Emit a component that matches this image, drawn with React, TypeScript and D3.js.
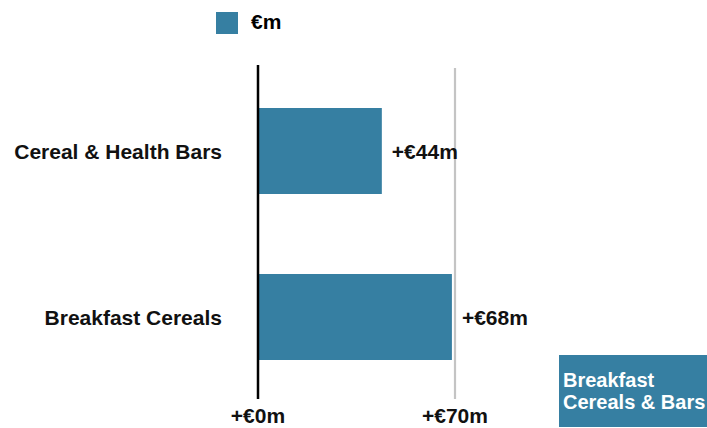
import React from "react";
import * as d3 from "d3";

const categories = ["Cereal & Health Bars", "Breakfast Cereals"];
const values = [44, 68.9];
const tickValues = [0, 70];
const legendLabel = "€m";
const boxLines = ["Breakfast", "Cereals & Bars"];

const W = 707;
const H = 428;
const COLOR = "#367fa2";
const FONT = "'Liberation Sans', Arial, Helvetica, sans-serif";

const fmt = (v: number) => `+€${Math.floor(v)}m`;

export default function App() {
  const x = d3.scaleLinear().domain([0, 70]).range([258, 455]);
  const y = d3.scaleBand<string>().domain(categories).range([25, 443]).paddingInner(0.482).paddingOuter(0.5);

  return (
    <svg width={W} height={H} style={{ position: "absolute", left: 0, top: 0 }} fontFamily={FONT}>
      <rect x={0} y={0} width={W} height={H} fill="#fff" />
      {/* legend */}
      <rect x={216} y={12} width={22} height={22} fill={COLOR} />
      <text x={251} y={29} fontSize={21} fontWeight="bold" fill="#000">{legendLabel}</text>

      {/* gridline at 70 */}
      <line x1={x(70)} x2={x(70)} y1={68} y2={399} stroke="#c4c4c4" strokeWidth={2.2} />

      {/* bars */}
      {categories.map((c, i) => (
        <g key={c}>
          <rect x={x(0)} y={y(c)!} width={x(values[i]) - x(0)} height={y.bandwidth()} fill={COLOR} />
          <text x={222} y={y(c)! + y.bandwidth() / 2 + 1} dy="0.35em" textAnchor="end" fontSize={21} fontWeight="bold" fill="#111">{c}</text>
          <text x={x(values[i]) + 10} y={y(c)! + y.bandwidth() / 2 + 1} dy="0.35em" fontSize={21} fontWeight="bold" fill="#111">{fmt(values[i])}</text>
        </g>
      ))}

      {/* zero line */}
      <line x1={x(0)} x2={x(0)} y1={65} y2={399} stroke="#000" strokeWidth={2.5} />

      {/* tick labels */}
      {tickValues.map((t) => (
        <text key={t} x={x(t)} y={423} textAnchor="middle" fontSize={21} fontWeight="bold" fill="#111">{fmt(t)}</text>
      ))}

      {/* box */}
      <rect x={559} y={355} width={148} height={72} fill={COLOR} />
      {boxLines.map((l, i) => (
        <text key={l} x={563} y={387 + i * 21.5} fontSize={20} fontWeight="bold" fill="#fff">{l}</text>
      ))}
    </svg>
  );
}
